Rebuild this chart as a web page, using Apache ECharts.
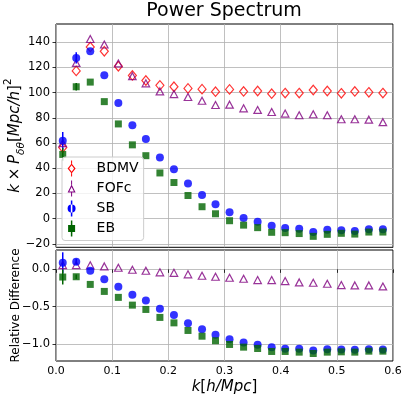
<!DOCTYPE html>
<html><head><meta charset="utf-8">
<script src="https://cdn.jsdelivr.net/npm/echarts@6/dist/echarts.min.js"></script>
<style>html,body{margin:0;padding:0;background:#fff}#c{width:407px;height:400px}</style>
</head><body><div id="c"></div>
<script>
// ---- data ----
const k = [0.012, 0.036, 0.061, 0.086, 0.111, 0.136, 0.160, 0.185, 0.210, 0.235, 0.260, 0.284,
           0.309, 0.334, 0.359, 0.384, 0.408, 0.433, 0.458, 0.483, 0.508, 0.532, 0.557, 0.582];
const bdmv = [56.5, 117.3, 136.3, 132.9, 121.0, 113.7, 109.7, 105.8, 104.7, 103.4, 102.8, 100.8,
              102.6, 101.0, 101.3, 99.2, 99.7, 99.7, 102.1, 101.3, 99.5, 101.0, 100.3, 99.7];
const fofc = [60.0, 123.6, 142.6, 138.2, 123.2, 113.1, 107.4, 101.0, 98.9, 96.6, 93.6, 90.2,
              90.5, 87.6, 86.3, 84.7, 83.4, 82.1, 82.9, 82.1, 78.9, 78.9, 78.6, 76.6];
const sb = [61.8, 127.6, 132.9, 113.9, 91.8, 74.2, 63.3, 48.6, 39.2, 27.9, 18.9, 11.4,
            5.2, 0.5, -2.4, -5.5, -7.4, -7.9, -10.6, -8.7, -9.2, -9.8, -8.4, -8.4];
const eb = [51.0, 104.7, 108.4, 92.9, 75.2, 58.6, 50.0, 36.3, 28.7, 18.4, 9.5, 3.9,
            -1.6, -5.1, -7.1, -10.8, -11.1, -11.8, -14.0, -12.4, -11.6, -12.2, -10.6, -10.6];
const sbErr = [7.0, 4.5, 0, 0, 0, 0, 0, 0, 0, 0, 0, 0, 0, 0, 0, 0, 0, 0, 0, 0, 0, 0, 0, 0];
const ebErr = [5.0, 3.0, 0, 0, 0, 0, 0, 0, 0, 0, 0, 0, 0, 0, 0, 0, 0, 0, 0, 0, 0, 0, 0, 0];

const fofcRel = [0.058, 0.058, 0.054, 0.040, 0.022, -0.005, -0.019, -0.040, -0.046, -0.067, -0.086, -0.099,
                 -0.113, -0.126, -0.144, -0.144, -0.157, -0.175, -0.180, -0.193, -0.211, -0.215, -0.215, -0.229];
const sbRel = [0.089, 0.102, -0.019, -0.134, -0.233, -0.341, -0.417, -0.529, -0.614, -0.722, -0.805, -0.879,
               -0.937, -0.981, -1.013, -1.044, -1.067, -1.067, -1.089, -1.071, -1.075, -1.080, -1.071, -1.075];
const ebRel = [-0.103, -0.099, -0.202, -0.296, -0.376, -0.480, -0.538, -0.645, -0.718, -0.820, -0.897, -0.958,
               -1.008, -1.044, -1.062, -1.102, -1.102, -1.111, -1.129, -1.111, -1.107, -1.111, -1.098, -1.098];
const sbRelErr = [0.14, 0.04, 0, 0, 0, 0, 0, 0, 0, 0, 0, 0, 0, 0, 0, 0, 0, 0, 0, 0, 0, 0, 0, 0];
const ebRelErr = [0.10, 0.03, 0, 0, 0, 0, 0, 0, 0, 0, 0, 0, 0, 0, 0, 0, 0, 0, 0, 0, 0, 0, 0, 0];

const xTicks = [0, 0.1, 0.2, 0.3, 0.4, 0.5, 0.6];
const yTicksTop = [-20, 0, 20, 40, 60, 80, 100, 120, 140];
const yTicksBottom = [-1.0, -0.5, 0.0];
const names = ['BDMV', 'FOFc', 'SB', 'EB'];

// ---- styling ----
const FONT = 'DejaVu Sans';
const C = {BDMV: '#ff0000', FOFc: '#800080', SB: '#0000ff', EB: '#006400'};
const gridLine = {show: true, lineStyle: {color: '#b0b0b0', width: 0.8}};
const fmtMinus = (v, d) => (v < 0 ? '\u2212' : '') + Math.abs(v).toFixed(d);

const pts = (xs, ys) => xs.map((x, i) => [x, ys[i]]);
const errData = (xs, ys, es) => xs.map((x, i) => [x, ys[i] - es[i], ys[i] + es[i], es[i]]).filter(d => d[3] > 0);
function errSeries(name, data, xi, yi, color) {
  return {
    type: 'custom', name: name, xAxisIndex: xi, yAxisIndex: yi, data: data, z: 2,
    renderItem: function (params, api) {
      const a = api.coord([api.value(0), api.value(1)]);
      const b = api.coord([api.value(0), api.value(2)]);
      return {type: 'line', shape: {x1: a[0], y1: a[1], x2: b[0], y2: b[1]},
              style: {stroke: color, lineWidth: 1.5}};
    }
  };
}
const hollow = (c) => ({color: 'rgba(0,0,0,0)', borderColor: c, borderWidth: 1.2});

const icons = {
  BDMV: 'path://M3.5,0L4.5,0L4.5,3.2L3.5,3.2Z M3.5,12.8L4.5,12.8L4.5,16L3.5,16Z M4,3L8,8L4,13L0,8Z M4,4.8L1.5,8L4,11.2L6.5,8Z',
  FOFc: 'path://M3.5,0L4.5,0L4.5,4.2L3.5,4.2Z M3.5,12L4.5,12L4.5,16L3.5,16Z M4,4L8,12L0,12Z M4,6.5L1.7,10.9L6.3,10.9Z',
  SB: 'path://M3.25,0L4.75,0L4.75,16L3.25,16Z M0,8A4,4 0 1,0 8,8A4,4 0 1,0 0,8Z',
  EB: 'path://M2.75,0L4.25,0L4.25,16L2.75,16Z M0,4.5L7,4.5L7,11.5L0,11.5Z'
};

const option = {
  animation: false,
  backgroundColor: '#ffffff',
  textStyle: {fontFamily: FONT},
  title: {
    text: 'Power Spectrum', left: 224, textAlign: 'center', top: 0, padding: [2, 0, 0, 0],
    textStyle: {fontFamily: FONT, fontSize: 19, fontWeight: 'normal', color: '#000'}
  },
  legend: {
    orient: 'vertical', left: 62, top: 157,
    padding: [3.5, 5, 4, 5.6], itemGap: 4, itemWidth: 28, itemHeight: 16,
    backgroundColor: 'rgba(255,255,255,0.8)', borderColor: '#cccccc', borderWidth: 1, borderRadius: 3,
    textStyle: {fontFamily: FONT, fontSize: 14, color: '#000', padding: [0, 0, 0, 6]},
    selectedMode: false,
    data: names.map(n => ({name: n, icon: icons[n], itemStyle: {color: C[n], borderWidth: 0, opacity: 1}}))
  },
  grid: [
    {left: 56, top: 24, width: 337, height: 223.3, outerBoundsMode: 'none', containLabel: false,
     show: true, borderColor: '#000', borderWidth: 1, backgroundColor: 'rgba(0,0,0,0)'},
    {left: 56, top: 250, width: 337, height: 111, outerBoundsMode: 'none', containLabel: false,
     show: true, borderColor: '#000', borderWidth: 1, backgroundColor: 'rgba(0,0,0,0)'}
  ],
  xAxis: [
    {type: 'value', gridIndex: 0, min: xTicks[0], max: xTicks[xTicks.length - 1], interval: 0.1,
     axisLine: {show: false}, axisTick: {show: false}, axisLabel: {show: false}, splitLine: gridLine},
    {type: 'value', gridIndex: 1, min: xTicks[0], max: xTicks[xTicks.length - 1], interval: 0.1,
     axisLine: {show: false},
     axisTick: {show: true, inside: false, length: 3.5, lineStyle: {color: '#000', width: 0.8}},
     axisLabel: {show: true, fontFamily: FONT, fontSize: 11, color: '#000', margin: 5,
                 formatter: v => fmtMinus(v, 1)},
     splitLine: gridLine,
     name: '{i|k}{n|[}{i|h/Mpc}{n|]}', nameLocation: 'middle', nameGap: 19, nameMoveOverlap: false,
     nameTextStyle: {rich: {
       i: {fontFamily: FONT, fontSize: 15, fontStyle: 'italic', color: '#000'},
       n: {fontFamily: FONT, fontSize: 15, color: '#000'}}}}
  ],
  yAxis: [
    {type: 'value', gridIndex: 0, min: -22.7, max: 154.5,
     axisLine: {show: false},
     axisTick: {show: true, inside: false, length: 3.5, customValues: yTicksTop, lineStyle: {color: '#000', width: 0.8}},
     axisLabel: {show: true, customValues: yTicksTop, fontFamily: FONT, fontSize: 11.5, color: '#000', margin: 6,
                 formatter: v => fmtMinus(v, 0)},
     splitLine: gridLine,
     name: '{i|k} {n|\u00d7} {i|P}{s|\u03b4\u03b8}{n|[}{i|Mpc/h}{n|]}{p|2}',
     nameLocation: 'middle', nameGap: 29, nameRotate: 90, nameMoveOverlap: false,
     nameTextStyle: {rich: {
       i: {fontFamily: FONT, fontSize: 15, fontStyle: 'italic', color: '#000', lineHeight: 24, verticalAlign: 'middle'},
       n: {fontFamily: FONT, fontSize: 15, color: '#000', lineHeight: 24, verticalAlign: 'middle'},
       s: {fontFamily: FONT, fontSize: 10.5, fontStyle: 'italic', color: '#000', lineHeight: 12, verticalAlign: 'bottom'},
       p: {fontFamily: FONT, fontSize: 10.5, color: '#000', lineHeight: 12, verticalAlign: 'top'}}}},
    {type: 'value', gridIndex: 1, min: -1.23, max: 0.26,
     axisLine: {show: false},
     axisTick: {show: true, inside: false, length: 3.5, customValues: yTicksBottom, lineStyle: {color: '#000', width: 0.8}},
     axisLabel: {show: true, customValues: yTicksBottom, fontFamily: FONT, fontSize: 11.5, color: '#000', margin: 6,
                 formatter: v => fmtMinus(v, 1)},
     splitLine: gridLine,
     name: 'Relative Difference', nameLocation: 'middle', nameGap: 34, nameRotate: 90, nameMoveOverlap: false,
     nameTextStyle: {fontFamily: FONT, fontSize: 12, color: '#000'}}
  ],
  series: [
    errSeries('SB', errData(k, sb, sbErr), 0, 0, C.SB),
    errSeries('EB', errData(k, eb, ebErr), 0, 0, C.EB),
    {type: 'scatter', name: 'BDMV', xAxisIndex: 0, yAxisIndex: 0, data: pts(k, bdmv), z: 3,
     symbol: 'diamond', symbolSize: [8, 9.5], itemStyle: hollow(C.BDMV)},
    {type: 'scatter', name: 'FOFc', xAxisIndex: 0, yAxisIndex: 0, data: pts(k, fofc), z: 3,
     symbol: 'triangle', symbolSize: [7.5, 7], itemStyle: hollow(C.FOFc)},
    {type: 'scatter', name: 'SB', xAxisIndex: 0, yAxisIndex: 0, data: pts(k, sb), z: 3,
     symbol: 'circle', symbolSize: 8, itemStyle: {color: C.SB}},
    {type: 'scatter', name: 'EB', xAxisIndex: 0, yAxisIndex: 0, data: pts(k, eb), z: 3,
     symbol: 'rect', symbolSize: 7, itemStyle: {color: C.EB}},

    errSeries('SB', errData(k, sbRel, sbRelErr), 1, 1, C.SB),
    errSeries('EB', errData(k, ebRel, ebRelErr), 1, 1, C.EB),
    {type: 'scatter', name: 'FOFc', xAxisIndex: 1, yAxisIndex: 1, data: pts(k, fofcRel), z: 3,
     symbol: 'triangle', symbolSize: [7.5, 7], itemStyle: hollow(C.FOFc)},
    {type: 'scatter', name: 'SB', xAxisIndex: 1, yAxisIndex: 1, data: pts(k, sbRel), z: 3,
     symbol: 'circle', symbolSize: 8, itemStyle: {color: C.SB}},
    {type: 'scatter', name: 'EB', xAxisIndex: 1, yAxisIndex: 1, data: pts(k, ebRel), z: 3,
     symbol: 'rect', symbolSize: 7, itemStyle: {color: C.EB}}
  ]
};
const chart = echarts.init(document.getElementById('c'), null, {renderer: 'canvas'});
chart.setOption(option);
</script></body></html>
